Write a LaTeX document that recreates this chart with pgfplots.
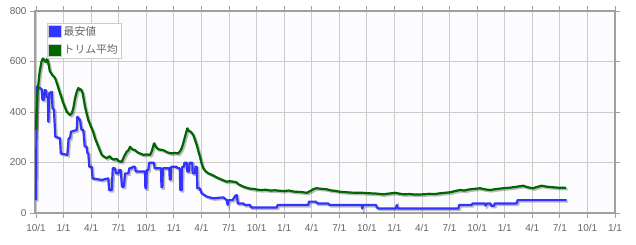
\documentclass[border=0pt]{standalone}
\usepackage{fontspec}
\setmainfont{Liberation Sans}
\newfontfamily\jp{Noto Sans CJK JP}
\usepackage{pgfplots}
\pgfplotsset{compat=1.18}
\usepackage{pgfplotstable}
\definecolor{lblue}{HTML}{3333FF}
\definecolor{dgreen}{HTML}{006600}
\definecolor{txt}{HTML}{666666}
\definecolor{gridc}{HTML}{CCCCCC}
\definecolor{framec}{HTML}{A0A0A0}
\definecolor{bgc}{HTML}{FCFCFF}

\pgfplotstableread{
m v
0.00 330
0.15 474
0.40 560
0.60 600
0.75 612
0.90 605
1.05 598
1.20 610
1.35 593
1.50 562
1.80 545
2.07 535
2.35 505
2.61 475
2.97 435
3.34 401
3.70 388
3.90 395
4.06 415
4.25 455
4.43 480
4.60 495
4.71 488
4.90 490
5.08 474
5.33 421
5.50 395
5.69 368
6.06 335
6.25 318
6.42 296
6.78 263
7.15 230
7.45 222
7.69 217
8.00 225
8.24 215
8.50 212
8.78 214
9.00 205
9.33 203
9.60 225
9.87 243
10.05 248
10.23 262
10.50 252
10.77 249
11.05 240
11.32 236
11.67 230
12.00 232
12.40 230
12.60 245
12.84 276
13.05 262
13.31 252
13.85 249
14.30 240
14.76 236
15.10 238
15.48 236
15.70 246
15.85 256
16.05 280
16.21 302
16.46 335
16.60 325
16.83 322
17.11 309
17.30 290
17.49 269
17.70 240
17.84 223
18.00 198
18.20 177
18.45 165
18.75 157
19.20 150
19.66 141
20.20 132
20.75 124
21.10 126
21.47 124
21.84 121
22.01 114
22.20 111
22.45 106
22.74 102
23.20 97
23.70 95
24.37 91
25.00 92
25.50 89
26.00 90
26.55 88
27.00 87
27.50 89
28.00 85
28.37 84
28.90 83
29.45 80
29.90 88
30.20 95
30.54 98
31.00 96
31.63 94
32.00 90
32.50 88
33.08 84
33.60 83
34.20 81
34.89 80
35.50 80
36.34 78
37.00 77
37.79 74
38.40 77
39.06 80
39.50 77
39.97 74
40.60 75
41.30 73
42.14 74
42.80 76
43.40 75
43.96 78
44.50 80
45.05 82
45.60 87
46.13 91
46.60 89
47.22 94
47.80 96
48.31 98
48.80 94
49.40 91
50.10 95
50.81 98
51.50 100
52.30 104
52.99 108
53.50 102
54.08 98
54.60 104
55.02 108
55.60 104
56.25 102
56.90 100
57.67 100
}\trim

\pgfplotstableread{
m v
0.00 51
0.08 500
0.44 495
0.62 490
0.70 448
0.85 448
0.95 487
1.10 485
1.16 460
1.30 458
1.34 361
1.45 474
1.71 480
1.80 415
1.95 410
2.10 302
2.61 296
2.70 236
3.41 230
3.55 296
3.70 296
3.80 322
4.43 329
4.50 381
4.79 368
4.95 329
5.15 329
5.30 263
5.50 263
5.60 236
5.69 236
5.80 183
6.06 183
6.15 137
7.15 131
7.87 137
7.95 91
8.24 91
8.35 177
8.60 177
8.70 157
8.95 157
9.05 170
9.22 170
9.35 104
9.55 104
9.70 157
10.04 157
10.15 177
10.41 177
10.50 183
10.77 183
10.85 164
11.86 164
11.90 98
12.00 98
12.05 170
12.22 170
12.30 199
12.84 199
12.90 177
13.60 177
13.65 102
13.75 102
13.80 177
14.50 177
14.55 133
14.65 133
14.70 183
15.31 183
15.40 177
15.65 177
15.70 91
15.85 91
15.90 183
16.10 183
16.15 199
16.40 199
16.45 164
16.65 164
16.70 199
17.00 199
17.05 157
17.30 157
17.35 183
17.50 183
17.55 98
17.80 98
18.03 78
18.57 65
19.29 58
20.38 62
20.75 51
20.85 32
20.95 51
21.40 51
21.65 67
21.84 71
21.95 38
22.56 38
22.70 32
23.28 32
23.40 22
26.19 22
26.30 32
29.63 32
29.70 45
30.47 45
30.60 38
31.80 38
31.90 32
35.44 32
35.50 18
35.60 32
37.00 32
37.07 22
37.26 18
39.15 18
39.26 32
39.35 18
45.95 18
46.05 32
47.41 32
47.50 38
48.85 38
48.90 29
49.10 38
49.45 38
49.50 29
49.85 29
49.90 38
52.30 38
52.40 51
57.74 51
}\low

\begin{document}
\begin{tikzpicture}
\begin{axis}[
  at={(0,0)}, anchor=south west,
  scale only axis, width=580pt, height=202pt,
  xmin=-0.11, xmax=63, ymin=0, ymax=800,
  xtick={0,3,...,63},
  xticklabels={10/1,1/1,4/1,7/1,10/1,1/1,4/1,7/1,10/1,1/1,4/1,7/1,10/1,1/1,4/1,7/1,10/1,1/1,4/1,7/1,10/1,1/1},
  ytick={0,200,...,800},
  grid=major,
  major grid style={gridc, line width=0.8pt},
  axis background/.style={fill=bgc},
  tick label style={font=\fontsize{10}{12}\selectfont, text=txt},
  /pgf/number format/assume math mode=true,
  yticklabel style={/pgf/number format/1000 sep={}},
  xticklabel style={yshift=-3pt},
  tick align=outside, major tick length=5pt,
  tick style={framec, line width=1pt},
  axis line style={framec, line width=2pt},
  legend style={at={(rel axis cs:0.0207,0.94)}, anchor=north west,
    draw=gridc, fill=white, font=\jp\fontsize{10.8}{12}\selectfont, text=txt,
    inner sep=1pt, row sep=4pt, cells={anchor=west}},
  legend image code/.code={\draw[#1, fill, draw=gridc, line width=0.5pt] (0pt,-6pt) rectangle (13pt,6pt);},
]
\addplot[black, opacity=0.25, line width=2.2pt, xshift=1.5pt, yshift=-1.5pt, forget plot] table[x=m,y=v] {\low};
\addplot[black, opacity=0.25, line width=2.2pt, xshift=1.5pt, yshift=-1.5pt, forget plot] table[x=m,y=v] {\trim};
\addplot[lblue, line width=2.2pt, line join=round] table[x=m,y=v] {\low};
\addlegendentry{最安値}
\addplot[dgreen, line width=2.2pt, line join=round] table[x=m,y=v] {\trim};
\addlegendentry{トリム平均}
\end{axis}
\pgfresetboundingbox
\path[use as bounding box] (-35pt,-31pt) rectangle (601pt,213pt);
\end{tikzpicture}
\end{document}
